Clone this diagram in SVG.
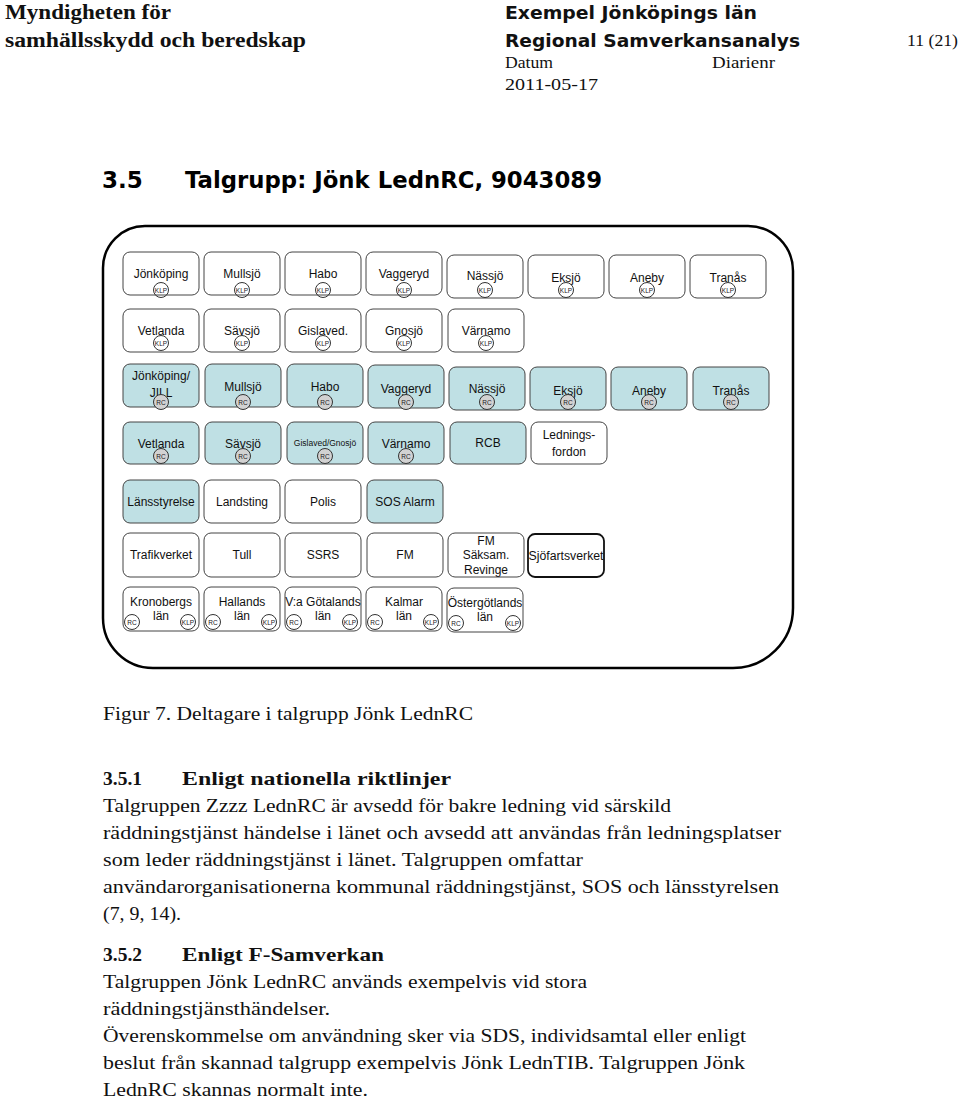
<svg xmlns="http://www.w3.org/2000/svg" width="960" height="1101" viewBox="0 0 960 1101">
<style>
.hs{font-family:"Liberation Serif","Times New Roman",serif;font-weight:bold;font-size:20px;fill:#111}
.hb{font-family:"DejaVu Sans",Verdana,sans-serif;font-weight:bold;font-size:17px;fill:#111}
.hn{font-family:"Liberation Serif","Times New Roman",serif;font-size:17px;fill:#111}
.ti{font-family:"DejaVu Sans",Verdana,sans-serif;font-weight:bold;font-size:23px;fill:#000}
.bt{font-family:"Liberation Serif","Times New Roman",serif;font-size:19.5px;fill:#111}
.bb{font-family:"Liberation Serif","Times New Roman",serif;font-size:19.5px;font-weight:bold;fill:#111}
.w{fill:#fff;stroke:#444;stroke-width:1}
.t{fill:#bfe0e4;stroke:#444;stroke-width:1}
.lb{font-family:"Liberation Sans",Arial,sans-serif;font-size:12px;fill:#111;text-anchor:middle}
.sm{font-family:"Liberation Sans",Arial,sans-serif;font-size:8.5px;fill:#111;text-anchor:middle}
.ck{fill:none;stroke:#333;stroke-width:1}
.cr{fill:#d2d2d2;stroke:#333;stroke-width:1}
.cw{fill:#fff;stroke:#333;stroke-width:1}
.ct{font-family:"Liberation Sans",Arial,sans-serif;font-size:6.5px;fill:#222;text-anchor:middle}
</style>

<!-- header -->
<text class="hs" x="5" y="19" textLength="166" lengthAdjust="spacingAndGlyphs">Myndigheten för</text>
<text class="hs" x="5" y="47" textLength="301" lengthAdjust="spacingAndGlyphs">samhällsskydd och beredskap</text>
<text class="hb" x="505" y="19" textLength="252" lengthAdjust="spacingAndGlyphs">Exempel Jönköpings län</text>
<text class="hb" x="505" y="47" textLength="295" lengthAdjust="spacingAndGlyphs">Regional Samverkansanalys</text>
<text class="hn" x="907" y="46" textLength="51" lengthAdjust="spacingAndGlyphs">11 (21)</text>
<text class="hn" x="505" y="68" textLength="48" lengthAdjust="spacingAndGlyphs">Datum</text>
<text class="hn" x="712" y="68" textLength="63" lengthAdjust="spacingAndGlyphs">Diarienr</text>
<text class="hn" x="505" y="90" textLength="93" lengthAdjust="spacingAndGlyphs">2011-05-17</text>

<!-- title -->
<text class="ti" x="102" y="188">3.5</text>
<text class="ti" x="185" y="188" textLength="417" lengthAdjust="spacingAndGlyphs">Talgrupp: Jönk LednRC, 9043089</text>

<!-- frame -->
<g id="frame">
<path d="M145,226 L748,226 A45,45 0 0 1 793,271 L793,608 A60,60 0 0 1 733,668 L153,668 A50,50 0 0 1 103,618 L103,268 A42,42 0 0 1 145,226 Z" fill="none" stroke="#000" stroke-width="2.5"/>
</g>

<g id="connectors"></g>

<!-- Row 1 KLP -->
<g id="r1-jonkoping"><rect class="w" x="123" y="252" width="76" height="43" rx="7"/><text class="lb" x="161" y="278">Jönköping</text><circle class="ck" cx="161" cy="290" r="7.5"/><text class="ct" x="161" y="292.5">KLP</text></g>
<g id="r1-mullsjo"><rect class="w" x="204" y="252" width="76" height="43" rx="7"/><text class="lb" x="242" y="278">Mullsjö</text><circle class="ck" cx="242" cy="290" r="7.5"/><text class="ct" x="242" y="292.5">KLP</text></g>
<g id="r1-habo"><rect class="w" x="285" y="252" width="76" height="43" rx="7"/><text class="lb" x="323" y="278">Habo</text><circle class="ck" cx="323" cy="290" r="7.5"/><text class="ct" x="323" y="292.5">KLP</text></g>
<g id="r1-vaggeryd"><rect class="w" x="366" y="252" width="76" height="43" rx="7"/><text class="lb" x="404" y="278">Vaggeryd</text><circle class="ck" cx="404" cy="290" r="7.5"/><text class="ct" x="404" y="292.5">KLP</text></g>
<g id="r1-nassjo"><rect class="w" x="447" y="255" width="76" height="43" rx="7"/><text class="lb" x="485" y="280">Nässjö</text><circle class="ck" cx="485" cy="290" r="7.5"/><text class="ct" x="485" y="292.5">KLP</text></g>
<g id="r1-eksjo"><rect class="w" x="528" y="255" width="76" height="43" rx="7"/><text class="lb" x="566" y="282">Eksjö</text><circle class="ck" cx="566" cy="290" r="7.5"/><text class="ct" x="566" y="292.5">KLP</text></g>
<g id="r1-aneby"><rect class="w" x="609" y="255" width="76" height="43" rx="7"/><text class="lb" x="647" y="282">Aneby</text><circle class="ck" cx="647" cy="290" r="7.5"/><text class="ct" x="647" y="292.5">KLP</text></g>
<g id="r1-tranas"><rect class="w" x="690" y="255" width="76" height="43" rx="7"/><text class="lb" x="728" y="282">Tranås</text><circle class="ck" cx="728" cy="290" r="7.5"/><text class="ct" x="728" y="292.5">KLP</text></g>

<!-- Row 2 KLP -->
<g id="r2-vetlanda"><rect class="w" x="123" y="309" width="76" height="43" rx="7"/><text class="lb" x="161" y="335">Vetlanda</text><circle class="ck" cx="161" cy="343" r="7.5"/><text class="ct" x="161" y="345.5">KLP</text></g>
<g id="r2-savsjo"><rect class="w" x="204" y="309" width="76" height="43" rx="7"/><text class="lb" x="242" y="335">Sävsjö</text><circle class="ck" cx="242" cy="343" r="7.5"/><text class="ct" x="242" y="345.5">KLP</text></g>
<g id="r2-gislaved"><rect class="w" x="285" y="309" width="76" height="43" rx="7"/><text class="lb" x="323" y="335">Gislaved.</text><circle class="ck" cx="323" cy="343" r="7.5"/><text class="ct" x="323" y="345.5">KLP</text></g>
<g id="r2-gnosjo"><rect class="w" x="366" y="309" width="76" height="43" rx="7"/><text class="lb" x="404" y="335">Gnosjö</text><circle class="ck" cx="404" cy="343" r="7.5"/><text class="ct" x="404" y="345.5">KLP</text></g>
<g id="r2-varnamo"><rect class="w" x="448" y="309" width="76" height="43" rx="7"/><text class="lb" x="486" y="335">Värnamo</text><circle class="ck" cx="486" cy="343" r="7.5"/><text class="ct" x="486" y="345.5">KLP</text></g>

<!-- Row 3 RC -->
<g id="r3-jonkoping"><rect class="t" x="123" y="364" width="76" height="43" rx="7"/><text class="lb" x="161" y="380">Jönköping/</text><text class="lb" x="161" y="397">JILL</text><circle class="cr" cx="161" cy="402" r="7.5"/><text class="ct" x="161" y="404.5">RC</text></g>
<g id="r3-mullsjo"><rect class="t" x="205" y="364" width="76" height="43" rx="7"/><text class="lb" x="243" y="391">Mullsjö</text><circle class="cr" cx="243" cy="402" r="7.5"/><text class="ct" x="243" y="404.5">RC</text></g>
<g id="r3-habo"><rect class="t" x="287" y="364" width="76" height="43" rx="7"/><text class="lb" x="325" y="391">Habo</text><circle class="cr" cx="325" cy="402" r="7.5"/><text class="ct" x="325" y="404.5">RC</text></g>
<g id="r3-vaggeryd"><rect class="t" x="368" y="365" width="76" height="43" rx="7"/><text class="lb" x="406" y="393">Vaggeryd</text><circle class="cr" cx="406" cy="402" r="7.5"/><text class="ct" x="406" y="404.5">RC</text></g>
<g id="r3-nassjo"><rect class="t" x="449" y="367" width="76" height="43" rx="7"/><text class="lb" x="487" y="393">Nässjö</text><circle class="cr" cx="487" cy="402" r="7.5"/><text class="ct" x="487" y="404.5">RC</text></g>
<g id="r3-eksjo"><rect class="t" x="530" y="367" width="76" height="43" rx="7"/><text class="lb" x="568" y="395">Eksjö</text><circle class="cr" cx="568" cy="402" r="7.5"/><text class="ct" x="568" y="404.5">RC</text></g>
<g id="r3-aneby"><rect class="t" x="611" y="367" width="76" height="43" rx="7"/><text class="lb" x="649" y="395">Aneby</text><circle class="cr" cx="649" cy="402" r="7.5"/><text class="ct" x="649" y="404.5">RC</text></g>
<g id="r3-tranas"><rect class="t" x="693" y="367" width="76" height="43" rx="7"/><text class="lb" x="731" y="395">Tranås</text><circle class="cr" cx="731" cy="402" r="7.5"/><text class="ct" x="731" y="404.5">RC</text></g>

<!-- Row 4 -->
<g id="r4-vetlanda"><rect class="t" x="123" y="422" width="76" height="42" rx="7"/><text class="lb" x="161" y="448">Vetlanda</text><circle class="cr" cx="161" cy="456" r="7.5"/><text class="ct" x="161" y="458.5">RC</text></g>
<g id="r4-savsjo"><rect class="t" x="205" y="422" width="76" height="42" rx="7"/><text class="lb" x="243" y="448">Sävsjö</text><circle class="cr" cx="243" cy="456" r="7.5"/><text class="ct" x="243" y="458.5">RC</text></g>
<g id="r4-gislaved"><rect class="t" x="287" y="422" width="76" height="42" rx="7"/><text class="sm" x="325" y="446">Gislaved/Gnosjö</text><circle class="cr" cx="325" cy="456" r="7.5"/><text class="ct" x="325" y="458.5">RC</text></g>
<g id="r4-varnamo"><rect class="t" x="368" y="422" width="76" height="42" rx="7"/><text class="lb" x="406" y="448">Värnamo</text><circle class="cr" cx="406" cy="456" r="7.5"/><text class="ct" x="406" y="458.5">RC</text></g>
<g id="r4-rcb"><rect class="t" x="450" y="422" width="76" height="42" rx="7"/><text class="lb" x="488" y="447">RCB</text></g>
<g id="r4-ledningsfordon"><rect class="w" x="531" y="422" width="76" height="42" rx="7"/><text class="lb" x="569" y="439">Lednings-</text><text class="lb" x="569" y="456">fordon</text></g>

<!-- Row 5 -->
<g id="r5-lansstyrelse"><rect class="t" x="123" y="480" width="76" height="43" rx="7"/><text class="lb" x="161" y="506">Länsstyrelse</text></g>
<g id="r5-landsting"><rect class="w" x="204" y="480" width="76" height="43" rx="7"/><text class="lb" x="242" y="506">Landsting</text></g>
<g id="r5-polis"><rect class="w" x="285" y="480" width="76" height="43" rx="7"/><text class="lb" x="323" y="506">Polis</text></g>
<g id="r5-sos"><rect class="t" x="367" y="480" width="76" height="43" rx="7"/><text class="lb" x="405" y="506">SOS Alarm</text></g>

<!-- Row 6 -->
<g id="r6-trafikverket"><rect class="w" x="123" y="533" width="76" height="44" rx="7"/><text class="lb" x="161" y="559">Trafikverket</text></g>
<g id="r6-tull"><rect class="w" x="204" y="533" width="76" height="44" rx="7"/><text class="lb" x="242" y="559">Tull</text></g>
<g id="r6-ssrs"><rect class="w" x="285" y="533" width="76" height="44" rx="7"/><text class="lb" x="323" y="559">SSRS</text></g>
<g id="r6-fm"><rect class="w" x="367" y="533" width="76" height="44" rx="7"/><text class="lb" x="405" y="559">FM</text></g>
<g id="r6-fmsaksam"><rect class="w" x="448" y="533" width="76" height="44" rx="7"/><text class="lb" x="486" y="545">FM</text><text class="lb" x="486" y="559">Säksam.</text><text class="lb" x="486" y="574">Revinge</text></g>
<g id="r6-sjofartsverket"><rect x="528" y="534" width="76" height="43" rx="7" fill="#fff" stroke="#111" stroke-width="1.8"/><text class="lb" x="566" y="560" textLength="75" lengthAdjust="spacingAndGlyphs">Sjöfartsverket</text></g>

<!-- Row 7 -->
<g id="r7-kronoberg"><rect class="w" x="123" y="587" width="76" height="44" rx="7"/><text class="lb" x="161" y="606">Kronobergs</text><text class="lb" x="161" y="620">län</text><circle class="cw" cx="132" cy="622" r="7.5"/><text class="ct" x="132" y="624.5">RC</text><circle class="cw" cx="188" cy="622" r="7.5"/><text class="ct" x="188" y="624.5">KLP</text></g>
<g id="r7-halland"><rect class="w" x="204" y="587" width="76" height="44" rx="7"/><text class="lb" x="242" y="606">Hallands</text><text class="lb" x="242" y="620">län</text><circle class="cw" cx="213" cy="622" r="7.5"/><text class="ct" x="213" y="624.5">RC</text><circle class="cw" cx="269" cy="622" r="7.5"/><text class="ct" x="269" y="624.5">KLP</text></g>
<g id="r7-vagotaland"><rect class="w" x="285" y="587" width="76" height="44" rx="7"/><text class="lb" x="323" y="606">V:a Götalands</text><text class="lb" x="323" y="620">län</text><circle class="cw" cx="294" cy="622" r="7.5"/><text class="ct" x="294" y="624.5">RC</text><circle class="cw" cx="350" cy="622" r="7.5"/><text class="ct" x="350" y="624.5">KLP</text></g>
<g id="r7-kalmar"><rect class="w" x="366" y="587" width="76" height="44" rx="7"/><text class="lb" x="404" y="606">Kalmar</text><text class="lb" x="404" y="620">län</text><circle class="cw" cx="375" cy="622" r="7.5"/><text class="ct" x="375" y="624.5">RC</text><circle class="cw" cx="431" cy="622" r="7.5"/><text class="ct" x="431" y="624.5">KLP</text></g>
<g id="r7-ostergotland"><rect class="w" x="447" y="588" width="76" height="44" rx="7"/><text class="lb" x="485" y="607">Östergötlands</text><text class="lb" x="485" y="621">län</text><circle class="cw" cx="456" cy="623" r="7.5"/><text class="ct" x="456" y="625.5">RC</text><circle class="cw" cx="513" cy="623" r="7.5"/><text class="ct" x="513" y="625.5">KLP</text></g>

<!-- caption and body -->
<text class="bt" x="103" y="720" textLength="370" lengthAdjust="spacingAndGlyphs">Figur 7. Deltagare i talgrupp Jönk LednRC</text>
<text class="bb" x="103" y="785">3.5.1</text>
<text class="bb" x="182" y="785" textLength="269" lengthAdjust="spacingAndGlyphs">Enligt nationella riktlinjer</text>
<text class="bt" x="103" y="812" textLength="568" lengthAdjust="spacingAndGlyphs">Talgruppen Zzzz LednRC är avsedd för bakre ledning vid särskild</text>
<text class="bt" x="103" y="839" textLength="678" lengthAdjust="spacingAndGlyphs">räddningstjänst händelse i länet och avsedd att användas från ledningsplatser</text>
<text class="bt" x="103" y="866" textLength="480" lengthAdjust="spacingAndGlyphs">som leder räddningstjänst i länet. Talgruppen omfattar</text>
<text class="bt" x="103" y="893" textLength="676" lengthAdjust="spacingAndGlyphs">användarorganisationerna kommunal räddningstjänst, SOS och länsstyrelsen</text>
<text class="bt" x="103" y="920" textLength="78" lengthAdjust="spacingAndGlyphs">(7, 9, 14).</text>
<text class="bb" x="103" y="961">3.5.2</text>
<text class="bb" x="182" y="961" textLength="202" lengthAdjust="spacingAndGlyphs">Enligt F-Samverkan</text>
<text class="bt" x="103" y="988" textLength="484" lengthAdjust="spacingAndGlyphs">Talgruppen Jönk LednRC används exempelvis vid stora</text>
<text class="bt" x="103" y="1015" textLength="227" lengthAdjust="spacingAndGlyphs">räddningstjänsthändelser.</text>
<text class="bt" x="103" y="1042" textLength="643" lengthAdjust="spacingAndGlyphs">Överenskommelse om användning sker via SDS, individsamtal eller enligt</text>
<text class="bt" x="103" y="1069" textLength="642" lengthAdjust="spacingAndGlyphs">beslut från skannad talgrupp exempelvis Jönk LednTIB. Talgruppen Jönk</text>
<text class="bt" x="103" y="1096" textLength="265" lengthAdjust="spacingAndGlyphs">LednRC skannas normalt inte.</text>
</svg>
